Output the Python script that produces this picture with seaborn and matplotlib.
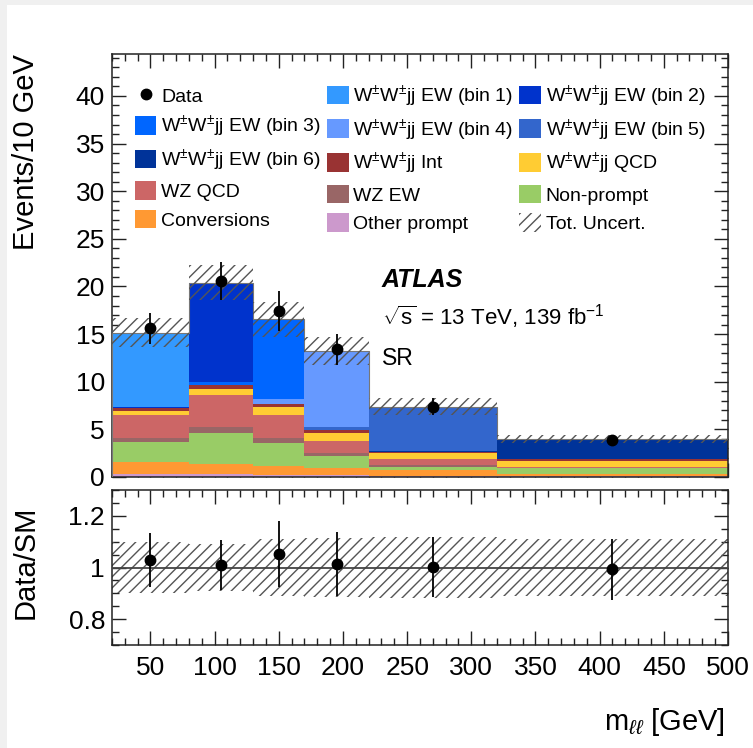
import numpy as np
import pandas as pd
import matplotlib
matplotlib.use("Agg")
import matplotlib.pyplot as plt
from matplotlib.patches import Patch, Rectangle
from matplotlib.lines import Line2D
from matplotlib.ticker import MultipleLocator, FormatStrFormatter
import seaborn as sns

# m_ll binning [GeV]
bin_edges = [20, 80, 130, 170, 220, 320, 500]

# Expected yields per process [Events/10 GeV]
ew_bin1 = [7.77, 0.00, 0.00, 0.00, 0.00, 0.00]
ew_bin2 = [0.18, 10.40, 0.00, 0.00, 0.00, 0.00]
ew_bin3 = [0.00, 0.37, 8.36, 0.00, 0.00, 0.00]
ew_bin4 = [0.00, 0.00, 0.56, 7.95, 0.00, 0.00]
ew_bin5 = [0.00, 0.00, 0.00, 0.35, 4.62, 0.00]
ew_bin6 = [0.00, 0.00, 0.00, 0.00, 0.14, 2.12]
ww_int = [0.24, 0.36, 0.33, 0.28, 0.13, 0.14]
ww_qcd = [0.46, 0.70, 0.83, 0.85, 0.63, 0.60]
wz_qcd = [2.44, 3.29, 2.41, 1.25, 0.60, 0.14]
wz_ew = [0.36, 0.63, 0.53, 0.35, 0.18, 0.05]
non_prompt = [2.10, 3.30, 2.38, 1.29, 0.35, 0.56]
conversions = [1.30, 1.05, 0.90, 0.71, 0.58, 0.25]
other_prompt = [0.30, 0.30, 0.25, 0.20, 0.15, 0.10]

# Total systematic + statistical uncertainty on the prediction
tot_uncert = [1.52, 1.85, 1.85, 1.50, 0.88, 0.44]

# Observed data
data_vals = [15.6, 20.6, 17.4, 13.4, 7.4, 3.93]
data_errs = [1.60, 2.00, 2.10, 1.65, 0.86, 0.47]

ww = r"W$^{\pm}$W$^{\pm}$jj"
# processes listed from top of the stack to the bottom
proc_labels = [f"{ww} EW (bin 1)", f"{ww} EW (bin 2)", f"{ww} EW (bin 3)",
               f"{ww} EW (bin 4)", f"{ww} EW (bin 5)", f"{ww} EW (bin 6)",
               f"{ww} Int", f"{ww} QCD", "WZ QCD", "WZ EW", "Non-prompt",
               "Conversions", "Other prompt"]
proc_values = [ew_bin1, ew_bin2, ew_bin3, ew_bin4, ew_bin5, ew_bin6,
               ww_int, ww_qcd, wz_qcd, wz_ew, non_prompt, conversions,
               other_prompt]
proc_colors = ["#3399ff", "#0033cc", "#0066ff", "#6699ff", "#3366cc",
               "#003399", "#993333", "#ffcc33", "#cc6666", "#996666",
               "#99cc66", "#ff9933", "#cc99cc"]

edges = np.array(bin_edges, dtype=float)
centers = 0.5 * (edges[:-1] + edges[1:])

rows = []
for lab, vals in zip(proc_labels, proc_values):
    for c, v in zip(centers, vals):
        rows.append({"mll": c, "weight": v, "process": lab})
df = pd.DataFrame(rows)

total = np.sum(np.array(proc_values), axis=0)
unc = np.array(tot_uncert)
data = np.array(data_vals)
derr = np.array(data_errs)

sns.set_style("ticks")
plt.rcParams.update({
    "font.family": ["Liberation Sans", "DejaVu Sans"],
    "mathtext.fontset": "custom",
    "mathtext.rm": "Liberation Sans",
    "mathtext.it": "Liberation Sans:italic",
    "mathtext.bf": "Liberation Sans:bold",
    "hatch.linewidth": 1.0,
    "axes.linewidth": 1.1,
    "axes.edgecolor": "#222222",
    "text.color": "black",
    "axes.labelcolor": "black",
    "xtick.color": "black",
    "ytick.color": "black",
})

fig = plt.figure(figsize=(7.53, 7.48), dpi=100)
fig.patch.set_facecolor("white")
fig.patches.append(Rectangle((0, 0), 7 / 753, 1, transform=fig.transFigure,
                             facecolor="#f0f0f0", edgecolor="none", zorder=-10))
fig.patches.append(Rectangle((0, 1 - 5 / 748), 1, 5 / 748, transform=fig.transFigure,
                             facecolor="#f0f0f0", edgecolor="none", zorder=-10))

ax = fig.add_axes([0.1487, 0.3623, 0.8181, 0.5655])
rax = fig.add_axes([0.1487, 0.1377, 0.8181, 0.2072])

# stacked backgrounds and signal
sns.histplot(data=df, x="mll", weights="weight", hue="process",
             hue_order=proc_labels, palette=dict(zip(proc_labels, proc_colors)),
             bins=list(bin_edges), multiple="stack", element="step", fill=True,
             alpha=1, linewidth=0, legend=False, ax=ax)

# outline of the total prediction
tot_step = np.append(total, total[-1])
ax.step(edges, tot_step, where="post", color="#777777", lw=0.8, zorder=3)
ax.plot([edges[0], edges[0]], [0, total[0]], color="#777777", lw=0.8, zorder=3)

# total uncertainty band
hatch_col = "#555555"
ax.fill_between(edges, np.append(total - unc, (total - unc)[-1]),
                np.append(total + unc, (total + unc)[-1]), step="post",
                facecolor="none", edgecolor=hatch_col, hatch="///", lw=0, zorder=4)

# data
ax.errorbar(centers, data, yerr=derr, fmt="o", color="black", ms=7.5,
            elinewidth=1.3, capsize=0, zorder=6)

ax.set_xlim(20, 500)
ax.set_ylim(0, 44.4)
ax.set_xlabel("")
ax.set_ylabel("Events/10 GeV", fontsize=21, loc="top")
ax.yaxis.set_label_coords(-0.117, 1.0)
ax.xaxis.set_major_locator(MultipleLocator(50))
ax.xaxis.set_minor_locator(MultipleLocator(10))
ax.yaxis.set_major_locator(MultipleLocator(5))
ax.yaxis.set_minor_locator(MultipleLocator(1))
ax.tick_params(which="both", direction="in", top=True, right=True,
               labelbottom=False, labelsize=19, width=1.0, color="#222222")
ax.tick_params(which="major", length=10, pad=5)
ax.tick_params(which="minor", length=5)

# labels
ax.text(0.438, 0.449, "ATLAS", transform=ax.transAxes, fontsize=18,
        fontweight="bold", fontstyle="italic", va="baseline")
ax.text(0.438, 0.359, r"$\sqrt{\mathrm{s}}$ = 13 TeV, 139 fb$^{-1}$", transform=ax.transAxes,
        fontsize=16, va="baseline")
ax.text(0.438, 0.265, "SR", transform=ax.transAxes, fontsize=16.5, va="baseline")

# legend, filled row by row in three columns
h = {lab: Patch(facecolor=col, edgecolor="none") for lab, col in zip(proc_labels, proc_colors)}
h_data = Line2D([], [], marker="o", color="black", ls="none", ms=7.5)
h_unc = Patch(facecolor="white", edgecolor=hatch_col, hatch="///", lw=0)
rows_order = [("Data", h_data)] + [(lab, h[lab]) for lab in proc_labels] + [("Tot. Uncert.", h_unc)]
ncol = 3
nrow = len(rows_order) // ncol
col_major = [rows_order[r * ncol + c] for c in range(ncol) for r in range(nrow)]
ax.legend([e[1] for e in col_major], [e[0] for e in col_major], ncol=ncol,
          loc="upper left", bbox_to_anchor=(0.0373, 0.93), frameon=False,
          fontsize=14, handlelength=1.1, handleheight=1.1, handletextpad=0.25,
          columnspacing=0.3, labelspacing=0.43, borderpad=0, borderaxespad=0)

# ratio panel
ratio = data / total
ratio_err = derr / total
rel = unc / total
rax.fill_between(edges, np.append(1 - rel, (1 - rel)[-1]), np.append(1 + rel, (1 + rel)[-1]),
                 step="post", facecolor="none", edgecolor=hatch_col, hatch="///", lw=0, zorder=2)
rax.axhline(1.0, color="#444444", lw=1.3, zorder=3)
rax.errorbar(centers, ratio, yerr=ratio_err, fmt="o", color="black", ms=7.5,
             elinewidth=1.3, capsize=0, zorder=5)
rax.set_xlim(20, 500)
rax.set_ylim(0.7, 1.3)
rax.set_ylabel("Data/SM", fontsize=21)
rax.yaxis.set_label_coords(-0.117, 0.535)
rax.set_xlabel("")
rax.xaxis.set_major_locator(MultipleLocator(50))
rax.xaxis.set_minor_locator(MultipleLocator(10))
rax.yaxis.set_major_locator(MultipleLocator(0.2))
rax.yaxis.set_minor_locator(MultipleLocator(0.05))
rax.yaxis.set_major_formatter(FormatStrFormatter("%g"))
rax.tick_params(which="both", direction="in", top=True, right=True,
                labelsize=19, width=1.0, color="#222222")
rax.tick_params(which="major", length=10, pad=5)
rax.tick_params(which="minor", length=5)
rax.tick_params(axis="x", which="major", pad=8)

fig.text(725 / 753, 1 - 722 / 748, r"m$_{\ell\ell}$ [GeV]", ha="right", va="center", fontsize=21)

fig.savefig("out.png", dpi=100)
